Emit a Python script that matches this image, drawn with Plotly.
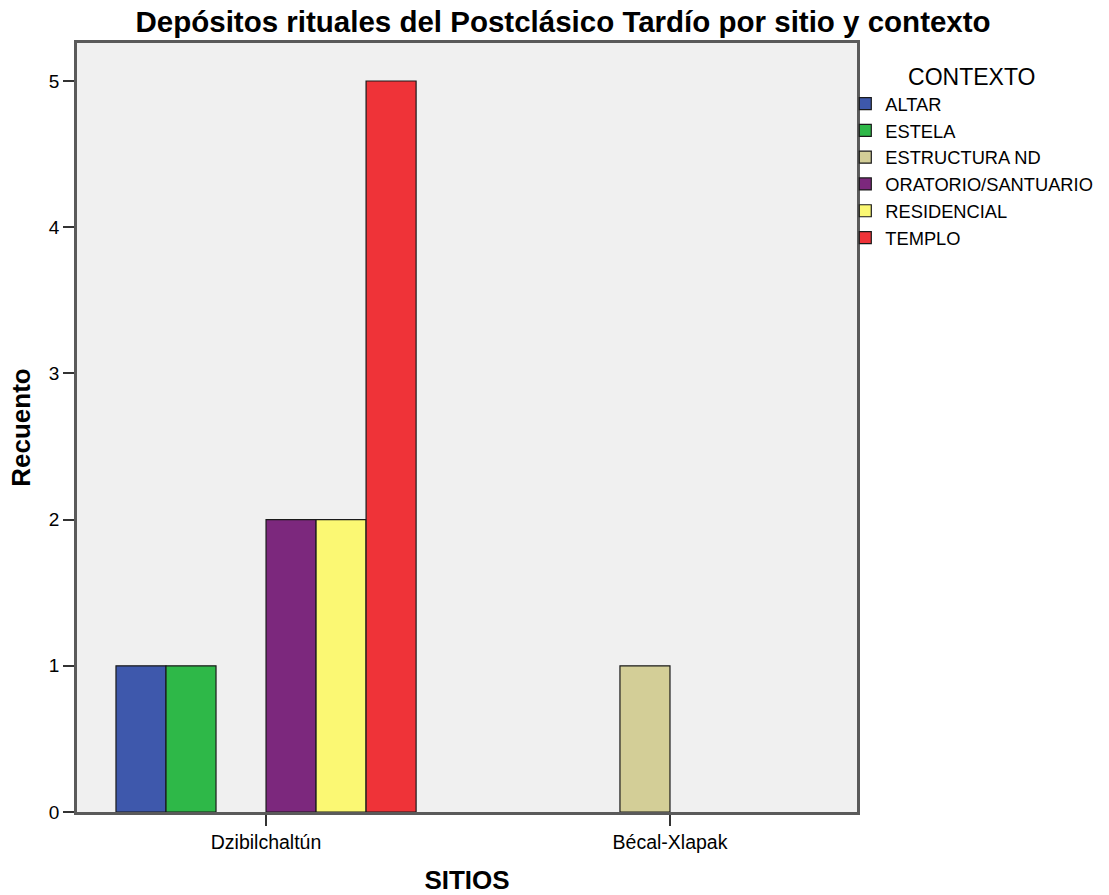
import plotly.graph_objects as go

sitios = ["Dzibilchaltún", "Bécal-Xlapak"]
contextos = ["ALTAR", "ESTELA", "ESTRUCTURA ND", "ORATORIO/SANTUARIO", "RESIDENCIAL", "TEMPLO"]
recuento = {
    "ALTAR": [1, None],
    "ESTELA": [1, None],
    "ESTRUCTURA ND": [None, 1],
    "ORATORIO/SANTUARIO": [2, None],
    "RESIDENCIAL": [2, None],
    "TEMPLO": [5, None],
}
colores = ["#3E58AC", "#2EB848", "#D3CE97", "#7C287D", "#FBF873", "#EF3338"]
y_ticks = [0, 1, 2, 3, 4, 5]

FONT = "Liberation Sans, Arial, sans-serif"

fig = go.Figure()
for c, col in zip(contextos, colores):
    fig.add_trace(go.Bar(
        x=[0, 1], y=recuento[c], name=c,
        marker=dict(color=col, line=dict(color="#1a1a1a", width=1.2)),
    ))

fig.update_layout(
    width=1109, height=895,
    margin=dict(l=77, r=252, t=43, b=83, autoexpand=False),
    paper_bgcolor="white", plot_bgcolor="#f0f0f0",
    barmode="group", bargap=0.257, bargroupgap=0,
    font=dict(family=FONT, color="#000000", size=18),
    title=dict(text="<b>Depósitos rituales del Postclásico Tardío por sitio y contexto</b>",
               x=0.5077, xanchor="center", xref="container",
               y=0.976, yanchor="middle",
               font=dict(size=29.5, family=FONT)),
    legend=dict(
        x=0.985, xanchor="left", y=0.984, yanchor="top",
        title=dict(text="CONTEXTO", side="top center", font=dict(size=23)),
        font=dict(size=18.3), tracegroupgap=0, itemwidth=30,
        bgcolor="rgba(0,0,0,0)",
    ),
    showlegend=True,
)
fig.update_xaxes(
    range=[-0.468, 1.463], tickmode="array", tickvals=[0, 1], ticktext=sitios,
    ticks="outside", ticklen=11, tickcolor="#333", tickwidth=2,
    showline=True, linecolor="#5a5a5a", linewidth=2.5, mirror=True,
    showgrid=False, zeroline=False, tickfont=dict(size=19.5), automargin=False,
    title=dict(text="<b>SITIOS</b>", font=dict(size=26), standoff=23),
)
fig.update_yaxes(
    range=[0, 5.26], tickmode="array", tickvals=y_ticks,
    ticks="outside", ticklen=11, tickcolor="#333", tickwidth=2,
    showline=True, linecolor="#5a5a5a", linewidth=2.5, mirror=True,
    showgrid=False, zeroline=False, tickfont=dict(size=19), automargin=False,
    title=dict(text="<b>Recuento</b>", font=dict(size=26), standoff=11),
)
fig.write_html("out.html", config={"displayModeBar": False},
               post_script="document.body.style.margin='0';")
